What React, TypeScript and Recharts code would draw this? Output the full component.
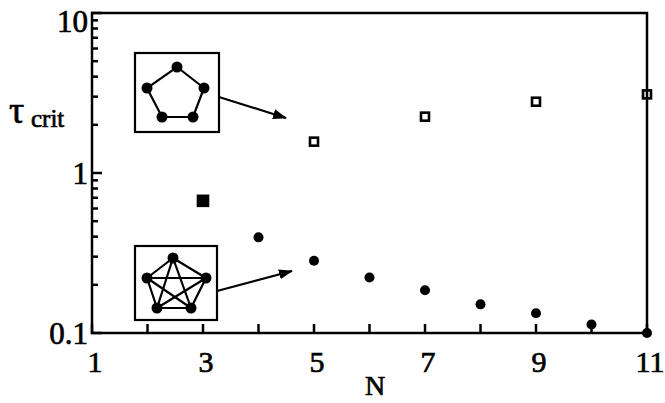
import { ScatterChart, Scatter, XAxis, YAxis } from "recharts";

// ring (cycle) graph: open squares
const ringN = [3, 5, 7, 9, 11];
const ringTau = [0.67, 1.57, 2.25, 2.79, 3.1];

// complete graph: filled circles
const completeN = [3, 4, 5, 6, 7, 8, 9, 10, 11];
const completeTau = [0.67, 0.396, 0.283, 0.222, 0.185, 0.151, 0.133, 0.113, 0.1];

const xTicks = [1, 2, 3, 4, 5, 6, 7, 8, 9, 10, 11];
const xLabels = [1, 3, 5, 7, 9, 11];
const yTicks = [
  0.1, 0.2, 0.3, 0.4, 0.5, 0.6, 0.7, 0.8, 0.9, 1, 2, 3, 4, 5, 6, 7, 8, 9, 10,
];
const yLabels = [0.1, 1, 10];

const ringData = ringN.map((n, i) => ({ n, tau: ringTau[i] }));
const completeData = completeN.map((n, i) => ({ n, tau: completeTau[i] }));

// plot box edges (px)
const L = 92;
const R = 647;
const T = 13;
const B = 333;
const FONT = "'Liberation Serif', 'Times New Roman', serif";

function coincides(n: number, tau: number) {
  return completeData.some((d) => d.n === n && d.tau === tau);
}

function SquareMark(p: any) {
  const { cx, cy, payload } = p;
  const filled = coincides(payload.n, payload.tau);
  const s = filled ? 10 : 8;
  return (
    <rect
      x={cx - s / 2}
      y={cy - s / 2}
      width={s}
      height={s}
      fill={filled ? "#000" : "#fff"}
      stroke="#000"
      strokeWidth={2.6}
    />
  );
}

function DotMark(p: any) {
  return <circle cx={p.cx} cy={p.cy} r={5} fill="#000" />;
}

function isDecade(v: number) {
  return yLabels.some((d) => Math.abs(d - v) < 1e-9);
}

const labelStyle = { fontFamily: FONT, fill: "#000", stroke: "#000", strokeWidth: 0.7 };

function BottomTick(p: any) {
  const x = p.payload?.coordinate ?? p.x;
  const v = p.payload.value;
  return (
    <g>
      <line x1={x} y1={B + 1} x2={x} y2={B - 9} stroke="#000" strokeWidth={2.5} />
      {xLabels.includes(v) && (
        <text x={x + 3} y={372} textAnchor="middle" fontSize={30} {...labelStyle}>
          {v}
        </text>
      )}
    </g>
  );
}

function TopTick(p: any) {
  const x = p.payload?.coordinate ?? p.x;
  return (
    <g>
      <line x1={x} y1={T - 1} x2={x} y2={T + 9} stroke="#000" strokeWidth={2.5} />
    </g>
  );
}

function LeftTick(p: any) {
  const y = p.payload?.coordinate ?? p.y;
  const v = p.payload.value;
  const major = isDecade(v);
  return (
    <g>
      <line x1={L - 1} y1={y} x2={L + (major ? 10 : 6)} y2={y} stroke="#000" strokeWidth={2.5} />
      {major && (
        <text x={88} y={Math.max(y + 11, 32)} textAnchor="end" fontSize={31} {...labelStyle}>
          {v}
        </text>
      )}
    </g>
  );
}

function RightTick(p: any) {
  const y = p.payload?.coordinate ?? p.y;
  const major = isDecade(p.payload.value);
  return (
    <g>
      <line x1={R + 1} y1={y} x2={R - (major ? 10 : 6)} y2={y} stroke="#000" strokeWidth={2.5} />
    </g>
  );
}

const ringNodes = [
  [177, 67],
  [204, 88],
  [193, 117],
  [162, 117],
  [147, 88],
];
const completeNodes = [
  [173, 258],
  [206, 278],
  [191, 308],
  [157, 308],
  [147, 278],
];

function Overlay() {
  const edges: [number, number][] = [];
  for (let i = 0; i < 5; i++) for (let j = i + 1; j < 5; j++) edges.push([i, j]);
  return (
    <svg
      width={665}
      height={403}
      style={{ position: "absolute", left: 0, top: 0, pointerEvents: "none" }}
    >
      <defs>
        <marker
          id="head"
          markerUnits="userSpaceOnUse"
          markerWidth={14}
          markerHeight={10}
          refX={13}
          refY={5}
          orient="auto"
        >
          <path d="M0,0 L14,5 L0,10 Z" fill="#000" />
        </marker>
      </defs>

      {/* plot frame */}
      <rect x={L} y={T} width={R - L} height={B - T} fill="none" stroke="#000" strokeWidth={2.5} />

      {/* ring inset */}
      <rect x={135} y={53} width={84} height={79} fill="#fff" stroke="#000" strokeWidth={2.2} />
      <polygon
        points={ringNodes.map((q) => q.join(",")).join(" ")}
        fill="none"
        stroke="#000"
        strokeWidth={2.2}
      />
      {ringNodes.map((q, i) => (
        <circle key={i} cx={q[0]} cy={q[1]} r={5.5} fill="#000" />
      ))}
      <line x1={219} y1={97} x2={286} y2={118} stroke="#000" strokeWidth={2.2} markerEnd="url(#head)" />

      {/* complete graph inset */}
      <rect x={135} y={246} width={82} height={74} fill="#fff" stroke="#000" strokeWidth={2.2} />
      {edges.map(([a, b], i) => (
        <line
          key={i}
          x1={completeNodes[a][0]}
          y1={completeNodes[a][1]}
          x2={completeNodes[b][0]}
          y2={completeNodes[b][1]}
          stroke="#000"
          strokeWidth={2.2}
        />
      ))}
      {completeNodes.map((q, i) => (
        <circle key={i} cx={q[0]} cy={q[1]} r={5.5} fill="#000" />
      ))}
      <line x1={217} y1={291} x2={292} y2={271} stroke="#000" strokeWidth={2.2} markerEnd="url(#head)" />

      <text x={9} y={123} fontSize={38} {...labelStyle}>
        τ
      </text>
      <text x={31} y={127} fontSize={25} {...labelStyle}>
        crit
      </text>
      <text x={375} y={395} textAnchor="middle" fontSize={28} {...labelStyle}>
        N
      </text>
    </svg>
  );
}

export default function App() {
  return (
    <div style={{ position: "absolute", left: 0, top: 0, width: 665, height: 403, background: "#fff" }}>
      <ScatterChart
        width={665}
        height={403}
        margin={{ top: T - 1, right: 665 - R - 1, bottom: 0, left: 0 }}
      >
        <XAxis
          xAxisId="b"
          dataKey="n"
          type="number"
          domain={[1, 11]}
          ticks={xTicks}
          interval={0}
          height={403 - B}
          axisLine={false}
          tickLine={false}
          tick={BottomTick}
        />
        <XAxis
          xAxisId="t"
          orientation="top"
          dataKey="n"
          type="number"
          domain={[1, 11]}
          ticks={xTicks}
          interval={0}
          height={1}
          axisLine={false}
          tickLine={false}
          tick={TopTick}
        />
        <YAxis
          yAxisId="l"
          dataKey="tau"
          type="number"
          scale="log"
          domain={[0.1, 10]}
          ticks={yTicks}
          interval={0}
          width={L}
          axisLine={false}
          tickLine={false}
          tick={LeftTick}
        />
        <YAxis
          yAxisId="r"
          orientation="right"
          dataKey="tau"
          type="number"
          scale="log"
          domain={[0.1, 10]}
          ticks={yTicks}
          interval={0}
          width={1}
          axisLine={false}
          tickLine={false}
          tick={RightTick}
        />
        <Scatter
          xAxisId="b"
          yAxisId="l"
          data={completeData}
          shape={DotMark}
          isAnimationActive={false}
        />
        <Scatter
          xAxisId="b"
          yAxisId="l"
          data={ringData}
          shape={SquareMark}
          isAnimationActive={false}
        />
      </ScatterChart>
      <Overlay />
    </div>
  );
}
